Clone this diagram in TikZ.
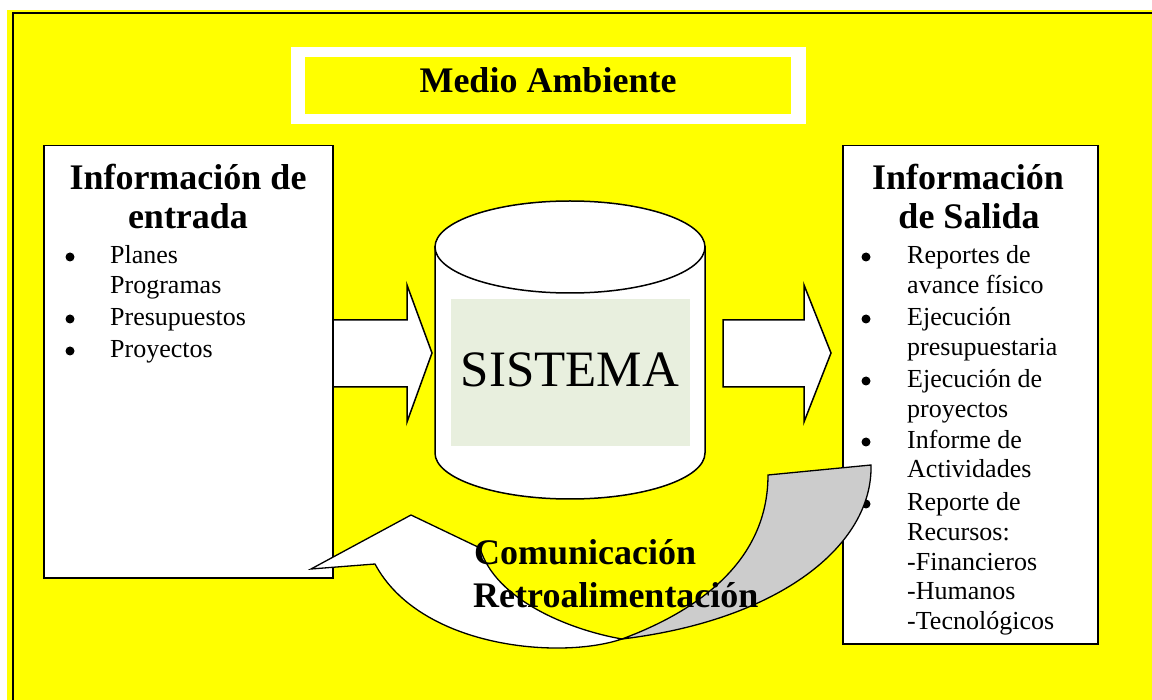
\documentclass[tikz,border=0pt]{standalone}
\usepackage{fontspec}
\setmainfont{Liberation Serif}
\begin{document}
\begin{tikzpicture}[x=1pt,y=-1pt,line join=miter]
\definecolor{bgyellow}{RGB}{255,255,0}
\definecolor{sysgreen}{RGB}{232,239,222}
\definecolor{backgray}{RGB}{204,204,204}
\tikzset{
  box/.style={draw=black,line width=1.5pt,fill=white,inner sep=0pt,anchor=north west},
  bigtitle/.style={font=\fontsize{36}{40}\selectfont\bfseries,inner sep=0pt,anchor=base},
  body/.style={font=\fontsize{26}{30}\selectfont,inner sep=0pt,anchor=base west},
  bul/.style={circle,fill=black,inner sep=0pt,minimum size=9pt},
  blockarrow/.style={draw=black,line width=1.5pt,fill=white},
  curvearrow/.style={draw=black,line width=1.3pt},
}
\useasboundingbox (0,0) rectangle (1152,700);
\fill[white] (0,0) rectangle (1152,700);
\fill[bgyellow] (7,10) rectangle (1152,700);
\draw[line width=1.5pt] (1152,13) -- (13,13) -- (13,700);

% title
\fill[white] (291,47) rectangle (806,124);
\fill[bgyellow] (305,57) rectangle (791,114);
\node[bigtitle] (medio) at (548,93) {Medio Ambiente};

% left box
\node[box,minimum width=289pt,minimum height=432pt] (entrada) at (43,145) {};
\node[bigtitle] (tin1) at (188,190) {Información de};
\node[bigtitle] (tin2) at (188,229) {entrada};
\node[bul] (bl1) at (70,257) {};
\node[body] (l1) at (110,264) {Planes};
\node[body] (l2) at (110,294) {Programas};
\node[bul] (bl3) at (70,319) {};
\node[body] (l3) at (110,326) {Presupuestos};
\node[bul] (bl4) at (70,351) {};
\node[body] (l4) at (110,358) {Proyectos};

% right box
\node[box,minimum width=255pt,minimum height=498pt] (salida) at (842,145) {};
\node[bigtitle] (tout1) at (968,190) {Información};
\node[bigtitle] (tout2) at (969,229) {de Salida};
\node[bul] (br1) at (866,257) {};
\node[body] (r1) at (907,264) {Reportes de};
\node[body] (r2) at (907,294) {avance físico};
\node[bul] (br3) at (866,319) {};
\node[body] (r3) at (907,326) {Ejecución};
\node[body] (r4) at (907,356) {presupuestaria};
\node[bul] (br5) at (866,381) {};
\node[body] (r5) at (907,388) {Ejecución de};
\node[body] (r6) at (907,418) {proyectos};
\node[bul] (br7) at (866,442) {};
\node[body] (r7) at (907,449) {Informe de};
\node[body] (r8) at (907,478) {Actividades};
\node[bul] (br9) at (866,504) {};
\node[body] (r9) at (907,511) {Reporte de};
\node[body] (r10) at (907,540) {Recursos:};
\node[body] (r11) at (907,570) {-Financieros};
\node[body] (r12) at (907,599) {-Humanos};
\node[body] (r13) at (907,629) {-Tecnológicos};

% block arrows
\draw[blockarrow] (333,320) -- (407,320) -- (407,285) -- (432,353) -- (407,422) -- (407,387) -- (333,387) -- cycle;
\draw[blockarrow] (723,320) -- (804,320) -- (804,285) -- (831,353) -- (804,422) -- (804,387) -- (723,387) -- cycle;

% cylinder
\filldraw[fill=white,line width=1.5pt] (435,247) -- (435,453) arc[start angle=180,end angle=0,x radius=135,y radius=46] -- (705,247) -- cycle;
\filldraw[fill=white,line width=1.5pt] (570,247) ellipse[x radius=135,y radius=46];
\fill[sysgreen] (451,299) rectangle (690,446);
\node[font=\fontsize{51}{56}\selectfont,inner sep=0pt,anchor=base] (sistema) at (570,387) {SISTEMA};

% curved arrow (white front)
\coordinate (P) at (622,639);
\coordinate (H2) at (375,564);
\coordinate (T) at (311,569);
\coordinate (H1) at (411,515);
\coordinate (J1) at (480,548);
\coordinate (G1) at (768,475);
\coordinate (G2) at (871,465);
\filldraw[curvearrow,fill=white] (P) .. controls (560,660) and (420,648) .. (H2)
  -- (T) -- (H1) -- (J1) .. controls (495,600) and (570,630) .. (P) -- cycle;
% curved arrow (grey back)
\filldraw[curvearrow,fill=backgray] (G1) -- (G2) .. controls (873,545) and (780,620) .. (P)
  .. controls (700,610) and (768,560) .. (G1) -- cycle;

\node[font=\fontsize{36}{42}\selectfont\bfseries,inner sep=0pt,anchor=base west] (com) at (474,565) {Comunicación};
\node[font=\fontsize{36}{42}\selectfont\bfseries,inner sep=0pt,anchor=base west] (retro) at (473,607) {Retroalimentación};
\end{tikzpicture}
\end{document}
